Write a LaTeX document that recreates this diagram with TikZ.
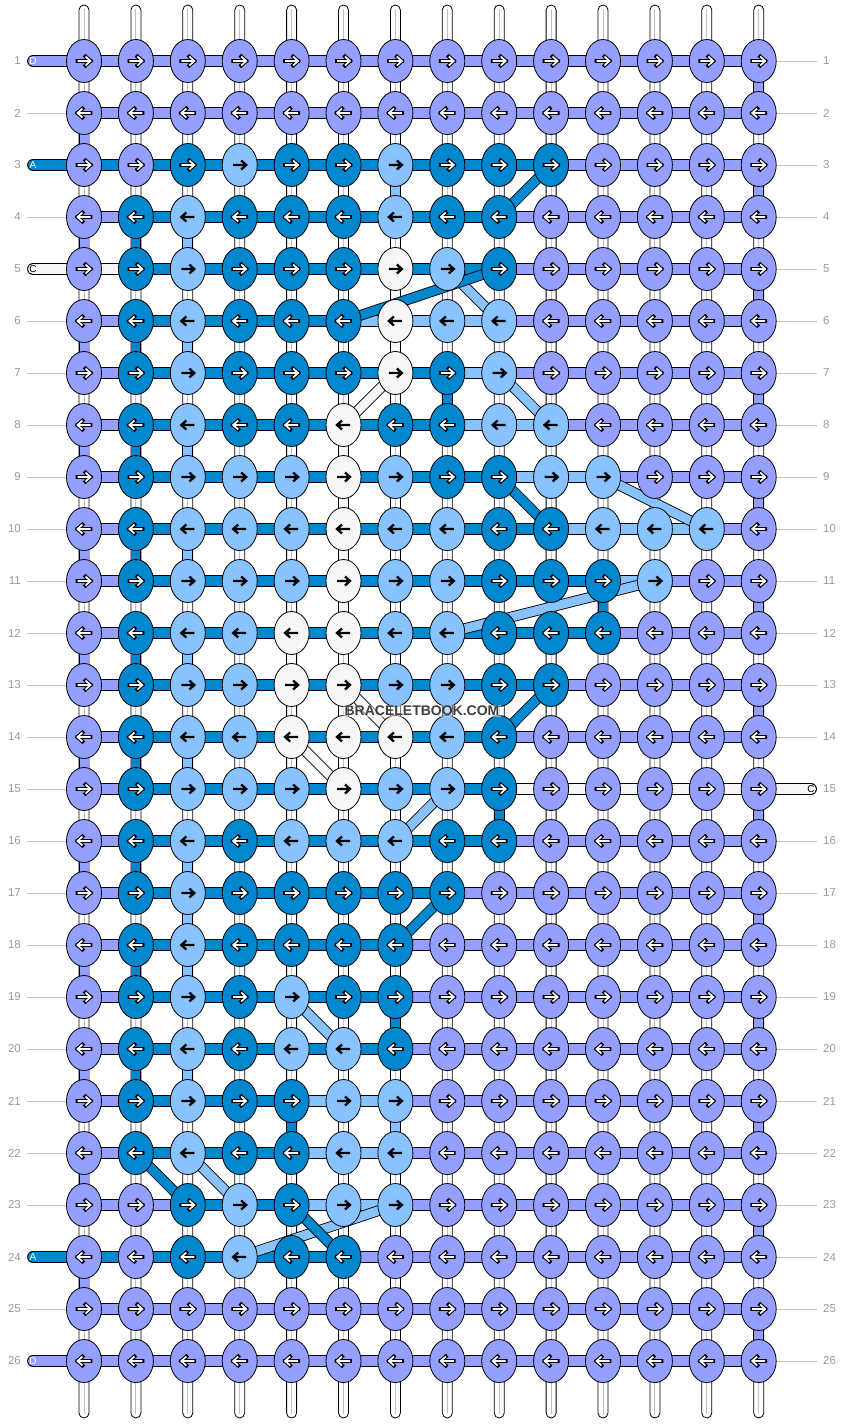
\documentclass[tikz,border=0pt]{standalone}
\usepackage{fontspec}
\setmainfont{Liberation Sans}
\usetikzlibrary{shapes.geometric}
\definecolor{colA}{HTML}{0087CD}
\definecolor{colB}{HTML}{89C3FF}
\definecolor{colC}{HTML}{F6F6F6}
\definecolor{colD}{HTML}{949FFF}
\definecolor{labgray}{HTML}{999999}
\pgfdeclarelayer{warps}
\pgfdeclarelayer{strands}
\pgfsetlayers{warps,strands,main}
\newcommand{\knotarrow}[3]{\draw[#3,shift={(#1)},xscale=#2] (-6.5,0) -- (6.5,0) (1.5,-4.5) -- (6.5,0) -- (1.5,4.5);}

\begin{document}
\begin{tikzpicture}
[x=1pt,y=-1pt,
knot/.style={ellipse,draw,line width=0.8pt,minimum width=35pt,minimum height=43pt,inner sep=0pt},
knotA/.style={knot,fill=colA},
knotB/.style={knot,fill=colB},
knotC/.style={knot,fill=colC},
knotD/.style={knot,fill=colD},
arrout/.style={draw=black,line width=3.8pt,line cap=rect,line join=miter},
arrin/.style={draw=white,line width=1.7pt,line cap=butt,line join=miter},
arrdark/.style={draw=black,line width=2.3pt,line cap=butt,line join=miter},
arroutA/.style={arrout}, arrinA/.style={arrin},
arroutD/.style={arrout}, arrinD/.style={arrin},
arroutB/.style={arrdark}, arrinB/.style={draw=none},
arroutC/.style={arrdark}, arrinC/.style={draw=none},
seg/.style={draw=black,line width=0.9pt,double distance=10pt},
segA/.style={seg,double=colA},
segB/.style={seg,double=colB},
segC/.style={seg,double=colC},
segD/.style={seg,double=colD},
link/.style={draw=black,line width=0.85pt,double distance=9pt},
linkA/.style={link,double=colA},
linkB/.style={link,double=colB},
linkC/.style={link,double=colC},
linkD/.style={link,double=colD},
warp/.style={draw=black,fill=white,line width=0.8pt,rounded corners=5pt},
warpmid/.style={draw=black!25,line width=0.9pt},
rowlab/.style={text=labgray,font=\fontsize{11.5}{12}\selectfont,inner sep=0pt},
rowline/.style={draw=black!22,line width=0.9pt},
tailab/.style={font=\fontsize{10}{10}\selectfont,inner sep=0pt},
tailabA/.style={tailab,text=white},
tailabD/.style={tailab,text=white},
tailabC/.style={tailab,text=black},
wmark/.style={fill=white,fill opacity=0.45,text opacity=1,text=black!75,inner sep=1.5pt,
  font=\bfseries\fontsize{14}{14}\selectfont}]
\useasboundingbox (0,0) rectangle (844,1424);
%% knots
\foreach \r/\row in {
1/{D,D,D,D,D,D,D,D,D,D,D,D,D,D},
2/{D,D,D,D,D,D,D,D,D,D,D,D,D,D},
3/{D,D,A,B,A,A,B,A,A,A,D,D,D,D},
4/{D,A,B,A,A,A,B,A,A,D,D,D,D,D},
5/{D,A,B,A,A,A,C,B,A,D,D,D,D,D},
6/{D,A,B,A,A,A,C,B,B,D,D,D,D,D},
7/{D,A,B,A,A,A,C,A,B,D,D,D,D,D},
8/{D,A,B,A,A,C,A,A,B,B,D,D,D,D},
9/{D,A,B,B,B,C,B,A,A,B,B,D,D,D},
10/{D,A,B,B,B,C,B,B,A,A,B,B,B,D},
11/{D,A,B,B,B,C,B,B,A,A,A,B,D,D},
12/{D,A,B,B,C,C,B,B,A,A,A,D,D,D},
13/{D,A,B,B,C,C,B,B,A,A,D,D,D,D},
14/{D,A,B,B,C,C,C,B,A,D,D,D,D,D},
15/{D,A,B,B,B,C,B,B,A,D,D,D,D,D},
16/{D,A,B,A,B,B,B,A,A,D,D,D,D,D},
17/{D,A,B,A,A,A,A,A,D,D,D,D,D,D},
18/{D,A,B,A,A,A,A,D,D,D,D,D,D,D},
19/{D,A,B,A,B,A,A,D,D,D,D,D,D,D},
20/{D,A,B,A,B,B,A,D,D,D,D,D,D,D},
21/{D,A,B,A,A,B,B,D,D,D,D,D,D,D},
22/{D,A,B,A,A,B,B,D,D,D,D,D,D,D},
23/{D,D,A,B,A,B,B,D,D,D,D,D,D,D},
24/{D,D,A,B,A,A,D,D,D,D,D,D,D,D},
25/{D,D,D,D,D,D,D,D,D,D,D,D,D,D},
26/{D,D,D,D,D,D,D,D,D,D,D,D,D,D}}{
  \pgfmathtruncatemacro{\dir}{1-2*mod(\r+1,2)}
  \foreach \k [count=\c] in \row {
    \node[knot\k] (k-\r-\c) at ({84+51.9*(\c-1)},{61+52*(\r-1)}) {};
    \knotarrow{k-\r-\c}{\dir}{arrout\k}
    \knotarrow{k-\r-\c}{\dir}{arrin\k}
  }
}
%% warp strands
\begin{pgfonlayer}{warps}
\foreach \c in {1,...,14}{
  \draw[warp] ({84+51.9*(\c-1)-5},5) rectangle ({84+51.9*(\c-1)+5},1418);
  \draw[warpmid] ({84+51.9*(\c-1)},9) -- ({84+51.9*(\c-1)},1414);
}
\end{pgfonlayer}
%% working strands
\begin{pgfonlayer}{strands}
% along the rows
\foreach \r/\row in {
1/{D,D,D,D,D,D,D,D,D,D,D,D,D},
2/{D,D,D,D,D,D,D,D,D,D,D,D,D},
3/{A,A,A,A,A,A,A,A,A,D,D,D,D},
4/{D,A,A,A,A,A,A,A,D,D,D,D,D},
5/{C,A,A,A,A,A,A,A,D,D,D,D,D},
6/{D,A,A,A,A,B,B,B,D,D,D,D,D},
7/{D,A,A,A,A,A,A,B,D,D,D,D,D},
8/{D,A,A,A,A,A,A,B,B,D,D,D,D},
9/{D,A,A,A,A,A,A,A,B,B,D,D,D},
10/{D,A,A,A,A,A,A,A,A,B,B,B,D},
11/{D,A,A,A,A,A,A,A,A,A,B,D,D},
12/{D,A,A,A,A,A,A,A,A,A,D,D,D},
13/{D,A,A,A,A,A,A,A,A,D,D,D,D},
14/{D,A,A,A,A,A,A,A,D,D,D,D,D},
15/{D,A,A,A,A,A,A,A,C,C,C,C,C},
16/{D,A,A,A,A,A,A,A,D,D,D,D,D},
17/{D,A,A,A,A,A,A,D,D,D,D,D,D},
18/{D,A,A,A,A,A,D,D,D,D,D,D,D},
19/{D,A,A,A,A,A,D,D,D,D,D,D,D},
20/{D,A,A,A,A,A,D,D,D,D,D,D,D},
21/{D,A,A,A,B,B,D,D,D,D,D,D,D},
22/{D,A,A,A,B,B,D,D,D,D,D,D,D},
23/{D,D,A,A,B,B,D,D,D,D,D,D,D},
24/{A,A,A,A,A,D,D,D,D,D,D,D,D},
25/{D,D,D,D,D,D,D,D,D,D,D,D,D},
26/{D,D,D,D,D,D,D,D,D,D,D,D,D}}{
  \foreach \s [count=\c] in \row {
    \pgfmathtruncatemacro{\n}{\c+1}
    \draw[seg\s] (k-\r-\c.center) -- (k-\r-\n.center);
  }
}
% loose ends
\foreach \r/\s in {1/D,3/A,5/C,24/A,26/D}{
  \coordinate (tail-\r) at (33,{61+52*(\r-1)});
  \draw[seg\s,line cap=round] (tail-\r) -- (k-\r-1.center);
}
\coordinate (tail-15) at (811,789);
\draw[segC,line cap=round] (k-15-14.center) -- (tail-15);
% D turns at the edges
\foreach \r in {1,3,...,25}{
  \pgfmathtruncatemacro{\n}{\r+1}
  \draw[linkD] (k-\r-14.center) -- (k-\n-14.center);
}
\foreach \r in {2,4,...,24}{
  \pgfmathtruncatemacro{\n}{\r+1}
  \draw[linkD] (k-\r-1.center) -- (k-\n-1.center);
}
% row to row: row/from/to/colour
\foreach \r/\a/\b/\s in {
3/7/7/B,4/3/3/B,6/3/3/B,8/3/3/B,10/3/3/B,12/3/3/B,13/8/8/B,14/3/3/B,
16/3/3/B,17/3/3/B,18/3/3/B,20/3/3/B,21/7/7/B,
5/7/7/C,6/7/7/C,8/6/6/C,9/6/6/C,10/6/6/C,11/6/6/C,12/5/5/C,
4/2/2/A,6/2/2/A,7/8/8/A,8/2/2/A,10/2/2/A,11/11/11/A,12/2/2/A,14/2/2/A,
15/9/9/A,16/2/2/A,18/2/2/A,19/7/7/A,20/2/2/A,21/5/5/A,
5/8/9/B,7/9/10/B,9/11/13/B,11/12/8/B,15/8/7/B,19/5/6/B,22/3/4/B,23/7/4/B,
7/7/6/C,13/6/7/C,14/5/6/C,
3/10/9/A,5/9/6/A,9/9/10/A,13/10/9/A,17/8/7/A,22/2/3/A,23/5/6/A}{
  \pgfmathtruncatemacro{\n}{\r+1}
  \draw[link\s] (k-\r-\a.center) -- (k-\n-\b.center);
}
\end{pgfonlayer}
%% labels
\foreach \r/\s in {1/D,3/A,5/C,24/A,26/D}{
  \node[tailab\s] (tl-\r) at (tail-\r) {\s};
}
\node[tailabC] (tl-15) at (tail-15) {C};
\foreach \r in {1,...,26}{
  \node[rowlab,anchor=east] (ll-\r) at (21,{61+52*(\r-1)}) {\r};
  \node[rowlab,anchor=west] (rl-\r) at (823,{61+52*(\r-1)}) {\r};
}
\foreach \r in {2,4,6,7,8,9,10,11,12,13,14,15,16,17,18,19,20,21,22,23,25}{
  \draw[rowline,shorten <=6pt] (ll-\r.east) -- (k-\r-1.west);
}
\foreach \r in {1,2,3,4,5,6,7,8,9,10,11,12,13,14,16,17,18,19,20,21,22,23,24,25,26}{
  \draw[rowline,shorten >=6pt] (k-\r-14.east) -- (rl-\r.west);
}
\node[wmark] (wm) at (422,711) {BRACELETBOOK.COM};
\end{tikzpicture}
\end{document}
